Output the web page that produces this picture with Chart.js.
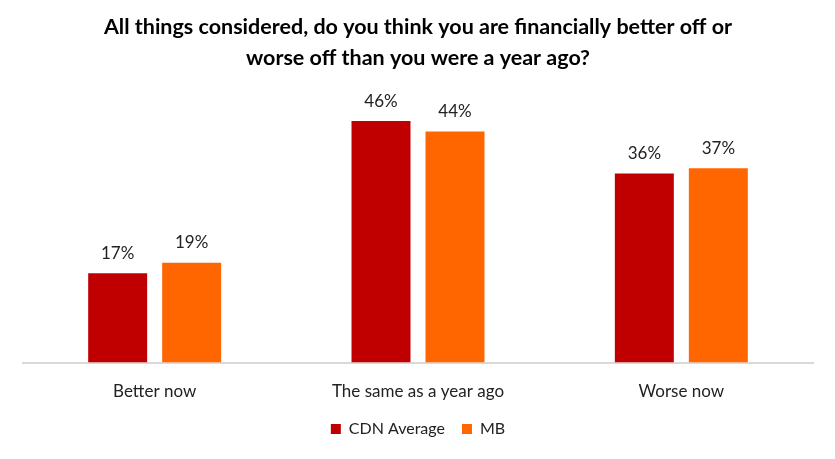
<!DOCTYPE html>
<html>
<head>
<meta charset="utf-8">
<script src="https://cdn.jsdelivr.net/npm/chart.js@4"></script>
<style>
  html, body { margin: 0; padding: 0; background: #fff; }
  #chart { display: block; }
</style>
</head>
<body>
<canvas id="chart" width="835" height="459"></canvas>
<script>
const categories = ['Better now', 'The same as a year ago', 'Worse now']
const cdnAverage = [17, 46, 36]
const mb = [19, 44, 37]
const titleLines = ['All things considered, do you think you are financially better off or', 'worse off than you were a year ago?']

const fontFamily = 'Lato, "Open Sans", sans-serif'

// draws the % value over each bar
const barLabels = {
  id: 'barLabels',
  afterDatasetsDraw(chart) {
    const ctx = chart.ctx
    ctx.save()
    ctx.font = '17px ' + fontFamily
    ctx.fillStyle = '#222'
    ctx.textAlign = 'center'
    ctx.textBaseline = 'middle'
    chart.data.datasets.forEach((ds, i) => {
      chart.getDatasetMeta(i).data.forEach((bar, j) => {
        ctx.fillText(ds.data[j] + '%', bar.x, bar.y - 20)
      })
    })
    ctx.restore()
  }
}

new Chart(document.getElementById('chart'), {
  type: 'bar',
  data: {
    labels: categories,
    datasets: [{
      label: 'CDN Average',
      data: cdnAverage,
      backgroundColor: '#C00000'
    }, {
      label: 'MB',
      data: mb,
      backgroundColor: '#FF6600'
    }]
  },
  options: {
    responsive: false,
    animation: false,
    categoryPercentage: 0.562,
    barPercentage: 0.797,
    layout: { padding: { left: 23, right: 22, top: 0, bottom: 12 } },
    plugins: {
      title: {
        display: true,
        text: titleLines,
        color: '#000',
        font: { family: fontFamily, size: 21.5, weight: 'bold', lineHeight: 1.42 },
        padding: { top: 12, bottom: 27 }
      },
      legend: {
        position: 'bottom',
        labels: {
          color: '#222',
          font: { family: fontFamily, size: 16 },
          boxWidth: 10,
          boxHeight: 10,
          padding: 17
        }
      },
      tooltip: { enabled: false }
    },
    scales: {
      x: {
        grid: { display: false },
        border: { color: '#d9d9d9', width: 2 },
        ticks: { color: '#222', font: { family: fontFamily, size: 17 }, padding: 11 },
        // give back the room the wider legend padding takes
        afterFit(scale) { scale.height -= 9 }
      },
      y: {
        display: false,
        min: 0,
        max: 50
      }
    }
  },
  plugins: [barLabels]
})
</script>
</body>
</html>
